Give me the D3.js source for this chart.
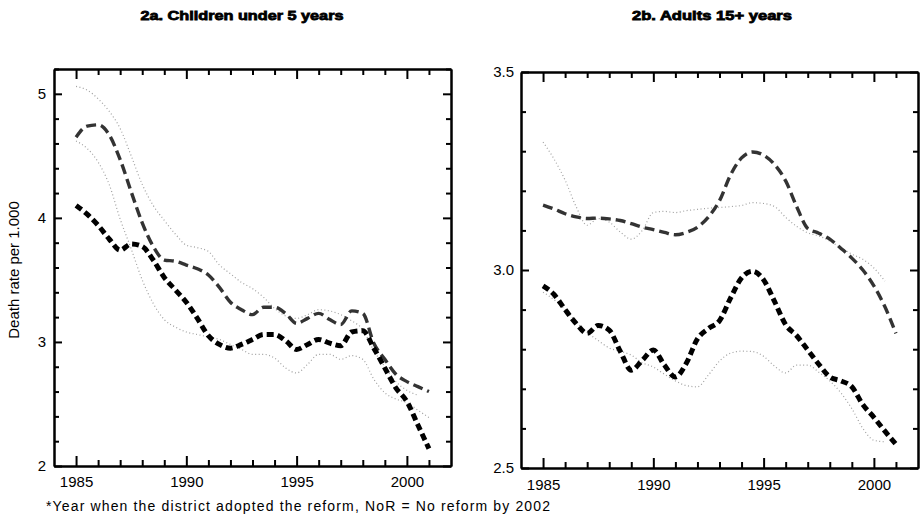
<!DOCTYPE html>
<html lang="en">

<head>
    <meta charset="utf-8">
    <title>Death rates</title>
    <script src="https://cdn.jsdelivr.net/npm/d3@7"></script>
    <style>
        body { margin: 0; background: #fff; }
        text { font-family: "Liberation Sans", Arial, sans-serif; }
    </style>
</head>

<body>
    <script type="text/javascript">
        // half-year grid the curves were read on
        var years = [1985, 1985.5, 1986, 1986.5, 1987, 1987.5, 1988, 1988.5, 1989, 1989.5,
            1990, 1990.5, 1991, 1991.5, 1992, 1992.5, 1993, 1993.5, 1994, 1994.5,
            1995, 1995.5, 1996, 1996.5, 1997, 1997.5, 1998, 1998.5, 1999, 1999.5,
            2000, 2000.5, 2001];

        var yearTicks = [1985, 1990, 1995, 2000];
        var childTicks = [2, 3, 4, 5];
        var adultTicks = [2.5, 3.0, 3.5];

        // 2a. children under 5
        var childBlack = [4.10, 4.03, 3.94, 3.83, 3.74, 3.79, 3.77, 3.66, 3.52, 3.42,
            3.32, 3.19, 3.05, 2.98, 2.95, 2.98, 3.02, 3.06, 3.06, 3.01,
            2.94, 2.98, 3.02, 2.99, 2.97, 3.08, 3.09, 2.95, 2.79, 2.63,
            2.52, 2.33, 2.14];
        var childGrey = [4.65, 4.74, 4.75, 4.67, 4.47, 4.21, 3.96, 3.77, 3.66, 3.65,
            3.62, 3.59, 3.54, 3.44, 3.32, 3.26, 3.22, 3.28, 3.28, 3.23,
            3.15, 3.19, 3.23, 3.18, 3.14, 3.25, 3.23, 2.99, 2.86, 2.74,
            2.68, 2.64, 2.60];
        var childUpper = [5.06, 5.03, 4.96, 4.86, 4.72, 4.50, 4.27, 4.10, 3.98, 3.87,
            3.78, 3.76, 3.73, 3.62, 3.55, 3.48, 3.43, 3.36, 3.27, 3.21,
            3.19, 3.22, 3.26, 3.25, 3.22, 3.17, 3.10, 2.93, 2.80, 2.68,
            2.61, 2.57, null];
        var childLower = [4.62, 4.56, 4.45, 4.27, 3.99, 3.75, 3.50, 3.31, 3.18, 3.12,
            3.08, 3.06, 3.04, 3.02, 2.98, 2.94, 2.90, 2.90, 2.87, 2.79,
            2.75, 2.82, 2.90, 2.90, 2.86, 2.89, 2.86, 2.70, 2.59, 2.54,
            2.51, 2.45, 2.39];

        // 2b. adults 15+
        var adultBlack = [2.960, 2.938, 2.900, 2.865, 2.840, 2.860, 2.848, 2.795, 2.747, 2.772,
            2.798, 2.760, 2.730, 2.765, 2.826, 2.852, 2.872, 2.929, 2.980, 2.997,
            2.975, 2.920, 2.862, 2.834, 2.798, 2.762, 2.730, 2.720, 2.705, 2.660,
            2.628, 2.593, 2.560];
        var adultGrey = [3.164, 3.154, 3.142, 3.134, 3.130, 3.131, 3.129, 3.125, 3.117, 3.108,
            3.102, 3.095, 3.089, 3.095, 3.108, 3.134, 3.175, 3.240, 3.283, 3.298,
            3.290, 3.266, 3.225, 3.160, 3.105, 3.093, 3.078, 3.055, 3.030, 3.000,
            2.960, 2.907, 2.840];
        var adultUpper = [3.323, 3.280, 3.227, 3.160, 3.113, 3.130, 3.121, 3.096, 3.078, 3.100,
            3.145, 3.148, 3.145, 3.150, 3.153, 3.156, 3.158, 3.160, 3.163, 3.170,
            3.168, 3.160, 3.133, 3.110, 3.094, 3.086, 3.073, 3.056, 3.040, 3.027,
            3.005, 2.972, null];
        var adultLower = [2.944, 2.925, 2.900, 2.869, 2.842, 2.822, 2.803, 2.795, 2.785, 2.766,
            2.755, 2.737, 2.720, 2.708, 2.705, 2.735, 2.770, 2.790, 2.795, 2.794,
            2.782, 2.757, 2.740, 2.760, 2.760, 2.742, 2.720, 2.690, 2.650, 2.600,
            2.570, 2.566, null];

        var width = 920;
        var height = 521;

        var svg = d3.select("body").append("svg")
            .attr("width", width)
            .attr("height", height);

        var styles = {
            upper: { color: "#a0a0a0", width: 1.2, dash: "1,2.5" },
            lower: { color: "#a0a0a0", width: 1.2, dash: "1,2.5" },
            grey: { color: "#333", width: 3.4, dash: "10,5" },
            black: { color: "#000", width: 5, dash: "7,4" }
        };

        function drawPanel(opt) {
            var x = d3.scaleLinear().domain([1984, 2002]).range([opt.left, opt.right]);
            var y = d3.scaleLinear().domain(opt.yDomain).range([opt.bottom, opt.top]);

            var g = svg.append("g");

            var minorYears = d3.range(1985, 2002, 1);
            var minorY = d3.range(opt.yDomain[0], opt.yDomain[1] + 1e-9, opt.yMinor);
            var blank = function () { return ""; };

            // inward ticks; d3 draws them upward/right for a negative size
            function axisAt(axis, transform, values, size, pad, fmt) {
                g.append("g").attr("transform", transform)
                    .call(axis.tickValues(values).tickSizeInner(-size).tickSizeOuter(0)
                        .tickPadding(pad).tickFormat(fmt));
            }
            var bt = "translate(0," + opt.bottom + ")";
            var tp = "translate(0," + opt.top + ")";
            var lf = "translate(" + opt.left + ",0)";
            var rt = "translate(" + opt.right + ",0)";
            var isMajorY = function (v) {
                return opt.yTicks.some(function (t) { return Math.abs(t - v) < 1e-6; });
            };
            var minorOnlyY = minorY.filter(function (v) { return !isMajorY(v); });
            var minorOnlyX = minorYears.filter(function (v) { return yearTicks.indexOf(v) < 0; });

            axisAt(d3.axisBottom(x), bt, minorOnlyX, 6, 0, blank);
            axisAt(d3.axisBottom(x), bt, yearTicks, 10, opt.xPad, d3.format("d"));
            axisAt(d3.axisTop(x), tp, minorOnlyX, 6, 0, blank);
            axisAt(d3.axisTop(x), tp, yearTicks, 10, 0, blank);
            axisAt(d3.axisLeft(y), lf, minorOnlyY, 5, 0, blank);
            axisAt(d3.axisLeft(y), lf, opt.yTicks, 8, opt.yPad, d3.format(opt.yFormat));
            axisAt(d3.axisRight(y), rt, minorOnlyY, 5, 0, blank);
            axisAt(d3.axisRight(y), rt, opt.yTicks, 8, 0, blank);

            g.selectAll(".tick line").attr("stroke", "#000").attr("stroke-width", 2);
            g.selectAll(".domain").attr("stroke", "#000").attr("stroke-width", 2);
            g.selectAll(".tick text")
                .attr("fill", "#000")
                .style("font-size", "15px");

            var line = d3.line()
                .defined(function (d) { return d[1] != null; })
                .x(function (d) { return x(d[0]); })
                .y(function (d) { return y(d[1]); })
                .curve(d3.curveMonotoneX);

            opt.series.forEach(function (s) {
                var st = styles[s.kind];
                var pts = years.map(function (yr, i) { return [yr, s.values[i]]; });
                g.append("path")
                    .datum(pts)
                    .attr("d", line)
                    .attr("fill", "none")
                    .attr("stroke", st.color)
                    .attr("stroke-width", st.width)
                    .attr("stroke-dasharray", st.dash);
            });

            // title
            svg.append("text")
                .attr("x", opt.titleX)
                .attr("y", 20)
                .attr("text-anchor", "middle")
                .attr("textLength", opt.titleLen)
                .attr("lengthAdjust", "spacingAndGlyphs")
                .attr("stroke", "#000")
                .attr("stroke-width", 0.8)
                .style("font-size", "13px")
                .style("font-weight", "bold")
                .text(opt.title);
        }

        drawPanel({
            left: 54, right: 451, top: 69, bottom: 466,
            yDomain: [2, 5.2], yMinor: 0.2, yTicks: childTicks, yFormat: "d",
            xPad: 10, yPad: 8,
            title: "2a. Children under 5 years", titleX: 242, titleLen: 203,
            series: [
                { kind: "upper", values: childUpper },
                { kind: "lower", values: childLower },
                { kind: "grey", values: childGrey },
                { kind: "black", values: childBlack }
            ]
        });

        drawPanel({
            left: 521, right: 918, top: 72, bottom: 468,
            yDomain: [2.5, 3.5], yMinor: 0.1, yTicks: adultTicks, yFormat: ".1f",
            xPad: 11, yPad: 7,
            title: "2b. Adults 15+ years", titleX: 712, titleLen: 160,
            series: [
                { kind: "upper", values: adultUpper },
                { kind: "lower", values: adultLower },
                { kind: "grey", values: adultGrey },
                { kind: "black", values: adultBlack }
            ]
        });

        // y axis title
        svg.append("text")
            .attr("transform", "translate(19,270) rotate(-90)")
            .attr("text-anchor", "middle")
            .style("font-size", "15px")
            .text("Death rate per 1.000");

        // footnote
        svg.append("text")
            .attr("x", 46)
            .attr("y", 511)
            .attr("textLength", 504)
            .attr("lengthAdjust", "spacing")
            .style("font-size", "14px")
            .text("*Year when the district adopted the reform, NoR = No reform by 2002");
    </script>
</body>

</html>
